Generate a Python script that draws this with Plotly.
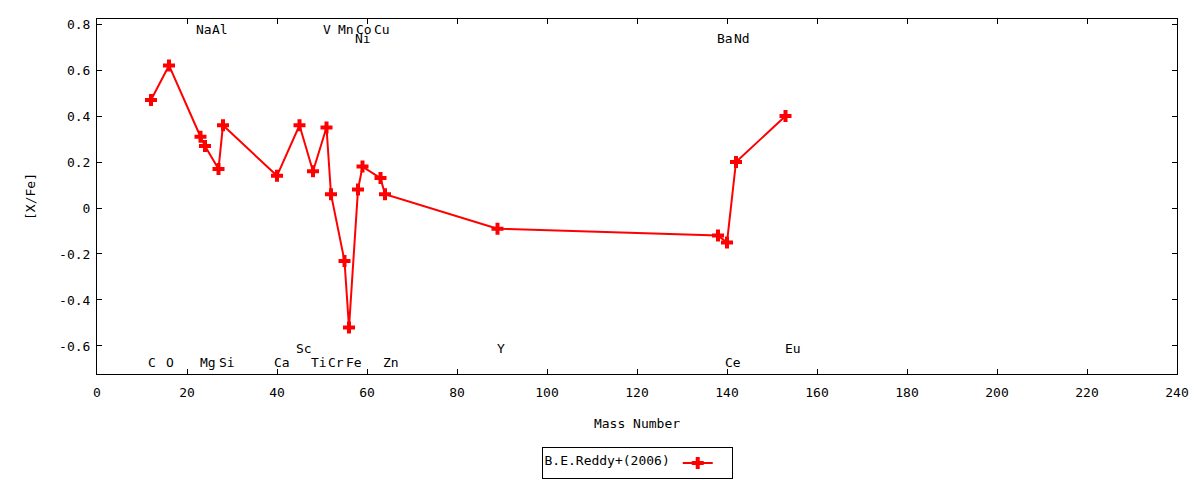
import plotly.graph_objects as go

# [X/Fe] abundances vs mass number (B.E. Reddy et al. 2006)
mass = [12, 16, 23, 24, 27, 28, 40, 45, 48, 51, 52, 55, 56, 58, 59, 63, 64, 89, 138, 140, 142, 153]
xfe = [0.47, 0.62, 0.31, 0.27, 0.17, 0.36, 0.14, 0.36, 0.16, 0.35, 0.06, -0.23, -0.52,
       0.08, 0.18, 0.13, 0.06, -0.09, -0.12, -0.15, 0.20, 0.40]

# element labels drawn along the top and bottom of the frame
label_text = ['Na', 'Al', 'V', 'Mn', 'Co', 'Cu',
              'Ni', 'Ba', 'Nd',
              'Sc', 'Y', 'Eu',
              'C', 'O', 'Mg', 'Si', 'Ca', 'Ti', 'Cr', 'Fe', 'Zn', 'Ce']
label_x = [23.7, 27.4, 51.2, 55.4, 59.3, 63.4,
           59.0, 139.5, 143.4,
           45.9, 89.7, 154.6,
           12.2, 16.2, 24.7, 28.9, 41.2, 49.3, 53.0, 57.0, 65.3, 141.4]
label_y = [0.776] * 6 + [0.737] * 3 + [-0.612] * 3 + [-0.672] * 10

xticks = list(range(0, 241, 20))
yticks = [-0.6, -0.4, -0.2, 0, 0.2, 0.4, 0.6, 0.8]
yticktext = ['-0.6', '-0.4', '-0.2', '0', '0.2', '0.4', '0.6', '0.8']

font = dict(family='DejaVu Sans Mono', size=13, color='black')

fig = go.Figure()
fig.add_trace(go.Scatter(
    x=mass, y=xfe,
    mode='lines+markers',
    name=' ',
    line=dict(color='red', width=2),
    marker=dict(symbol='cross', size=10, color='red'),
))

for t, x, y in zip(label_text, label_x, label_y):
    fig.add_annotation(x=x, y=y, text=t, showarrow=False,
                       xanchor='center', yanchor='middle', font=font)

axis_style = dict(showline=True, mirror='allticks', linecolor='black', linewidth=1,
                  ticks='inside', ticklen=5, tickcolor='black', showgrid=False,
                  zeroline=False, tickfont=font)

fig.update_xaxes(range=[0, 240], tickvals=xticks, ticklabelstandoff=6,
                 title=dict(text='Mass Number', font=font, standoff=20), **axis_style)
fig.update_yaxes(range=[-0.722, 0.822], tickvals=yticks, ticktext=yticktext, ticklabelstandoff=3,
                 title=dict(text='[X/Fe]', font=font, standoff=20), **axis_style)

# page body has an 8px margin, so the margins are shifted to compensate
fig.update_layout(
    width=1200, height=480,
    margin=dict(l=89, r=31, t=9, b=113),
    plot_bgcolor='white', paper_bgcolor='white',
    font=font,
    showlegend=True,
    legend=dict(x=0.5, y=-0.251, xanchor='center', yanchor='middle',
                orientation='h', bordercolor='black', borderwidth=1,
                title=dict(text='B.E.Reddy+(2006)', side='left', font=font),
                font=font),
)

fig.write_html("out.html")
